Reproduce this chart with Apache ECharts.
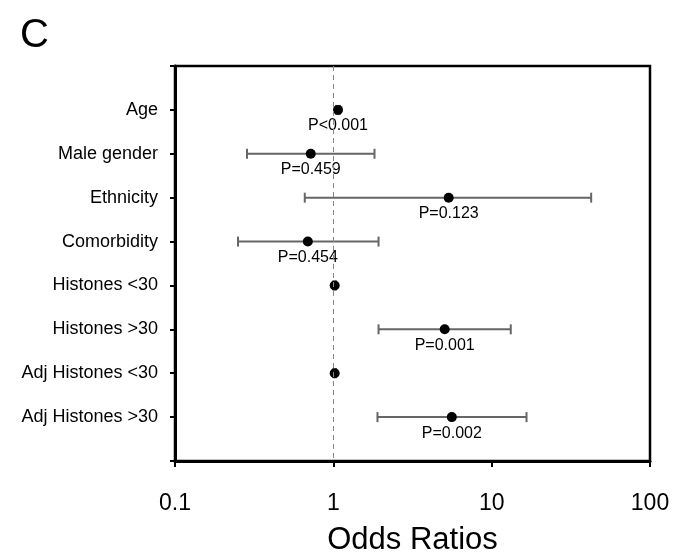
<!DOCTYPE html>
<html>
<head>
<meta charset="utf-8">
<script src="https://cdn.jsdelivr.net/npm/echarts@6/dist/echarts.min.js"></script>
<style>
  html, body { margin: 0; padding: 0; background: #fff; }
  #main { width: 676px; height: 554px; }
</style>
</head>
<body>
<div id="main"></div>
<script>
// rows, top to bottom
const categories = ['Age', 'Male gender', 'Ethnicity', 'Comorbidity', 'Histones <30', 'Histones >30', 'Adj Histones <30', 'Adj Histones >30']
const oddsRatio = [1.07, 0.72, 5.35, 0.69, 1.02, 5.05, 1.02, 5.6]
const ciLow = [1.04, 0.285, 0.66, 0.25, 1.0, 1.93, 1.0, 1.9]
const ciHigh = [1.10, 1.82, 42.5, 1.93, 1.04, 13.2, 1.04, 16.6]
const pLabels = ['P<0.001', 'P=0.459', 'P=0.123', 'P=0.454', '', 'P=0.001', '', 'P=0.002']
const xTicks = [0.1, 1, 10, 100]

const font = "'Liberation Sans', Arial, sans-serif"

const chart = echarts.init(document.getElementById('main'))

const points = oddsRatio.map((v, i) => ({ value: [v, i + 1], label: { formatter: pLabels[i] } }))
const bars = oddsRatio.map((v, i) => [ciLow[i], ciHigh[i], i + 1])

chart.setOption({
  animation: false,
  title: {
    text: 'C',
    left: 15,
    top: 11,
    textStyle: { fontFamily: font, fontSize: 40, fontWeight: 'normal', color: '#000' }
  },
  grid: {
    left: 175,
    right: 26,
    top: 66,
    bottom: 93,
    outerBoundsMode: 'none',
    containLabel: false,
    show: true,
    borderColor: '#000',
    borderWidth: 2.5
  },
  xAxis: {
    type: 'log',
    logBase: 10,
    min: 0.1,
    max: 100,
    name: 'Odds Ratios',
    nameLocation: 'middle',
    nameGap: 64,
    nameTextStyle: { fontFamily: font, fontSize: 31, color: '#000' },
    axisLine: { onZero: false, lineStyle: { color: '#000', width: 3 } },
    axisTick: { length: 6, lineStyle: { color: '#000', width: 2 } },
    minorTick: { show: false },
    splitLine: { show: false },
    axisLabel: {
      fontFamily: font,
      fontSize: 23,
      color: '#000',
      margin: 31,
      formatter: v => {
        const t = xTicks.find(x => Math.abs(x - v) / x < 1e-6)
        return t === undefined ? '' : String(t)
      }
    }
  },
  yAxis: {
    type: 'value',
    min: 0,
    max: 9,
    interval: 1,
    inverse: true,
    axisLine: { show: true, onZero: false, lineStyle: { color: '#000', width: 3 } },
    axisTick: { show: true, length: 5, lineStyle: { color: '#000', width: 2 } },
    splitLine: { show: false },
    axisLabel: {
      fontFamily: font,
      fontSize: 18,
      color: '#000',
      margin: 17,
      formatter: v => categories[v - 1] || ''
    }
  },
  series: [
    {
      type: 'custom',
      data: bars,
      encode: { x: [0, 1], y: 2 },
      renderItem: (params, api) => {
        const row = api.value(2)
        const a = api.coord([api.value(0), row])
        const b = api.coord([api.value(1), row])
        const h = 5
        const style = { stroke: '#666', lineWidth: 2 }
        return {
          type: 'group',
          children: [
            { type: 'line', shape: { x1: a[0], y1: a[1], x2: b[0], y2: b[1] }, style },
            { type: 'line', shape: { x1: a[0], y1: a[1] - h, x2: a[0], y2: a[1] + h }, style },
            { type: 'line', shape: { x1: b[0], y1: b[1] - h, x2: b[0], y2: b[1] + h }, style }
          ]
        }
      },
      z: 2
    },
    {
      type: 'scatter',
      data: points,
      symbol: 'circle',
      symbolSize: 10,
      itemStyle: { color: '#000', opacity: 1 },
      label: {
        show: true,
        position: 'bottom',
        distance: 3,
        fontFamily: font,
        fontSize: 16,
        color: '#000'
      },
      markLine: {
        silent: true,
        symbol: 'none',
        label: { show: false },
        lineStyle: { color: '#888', type: [5, 4], width: 1 },
        data: [{ xAxis: 1 }]
      },
      z: 3
    }
  ]
})
</script>
</body>
</html>
